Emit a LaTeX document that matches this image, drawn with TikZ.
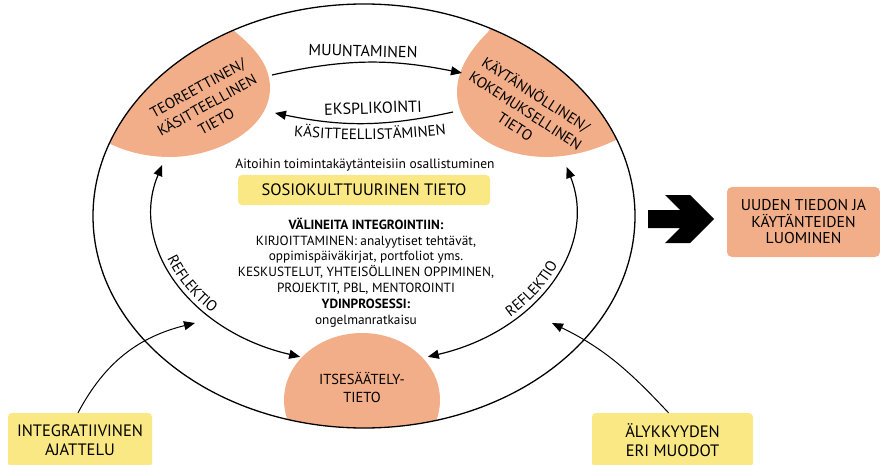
\documentclass[tikz,border=0pt]{standalone}
\usepackage{fontspec}
\setmainfont{PT Sans}
\usetikzlibrary{arrows.meta,decorations.text}
\definecolor{salmon}{RGB}{242,174,136}
\definecolor{butter}{RGB}{250,232,132}
\tikzset{
  tipend/.style={-{Triangle[length=11pt,width=9pt]}},
  twoends/.style={{Triangle[length=11pt,width=9pt]}-{Triangle[length=11pt,width=9pt]}},
  conn/.style={line width=1.2pt},
  lbl/.style={font=\fontsize{16}{18}\selectfont, inner sep=0pt},
  blobtxt/.style={font=\fontsize{15}{19}\selectfont, align=center, inner sep=0pt},
  smalltxt/.style={font=\fontsize{13.3}{15.8}\selectfont, align=center, inner sep=0pt},
  ybox/.style={fill=butter, rounded corners=4pt, align=center, inner sep=0pt},
  obox/.style={fill=salmon, rounded corners=5pt, align=center, inner sep=0pt},
}
\begin{document}
\begin{tikzpicture}[x=1pt,y=1pt]
\useasboundingbox (0,0) rectangle (880,-465);
% blobs clipped by the outer ellipse
\begin{scope}
\clip (364,-216) ellipse [x radius=271, y radius=212];
\fill[salmon] (215,0) -- (233,-30) .. controls (255,-48) and (270,-65) .. (270,-88)
  .. controls (270,-130) and (215,-157) .. (170,-157)
  .. controls (140,-157) and (115,-148) .. (100,-138) -- (60,-120) -- (60,0) -- cycle;
\fill[salmon] (505,-5) -- (488,-32) .. controls (470,-50) and (457,-70) .. (457,-92)
  .. controls (457,-130) and (495,-156) .. (545,-157)
  .. controls (575,-157) and (600,-148) .. (620,-138) -- (660,-100) -- (660,0) -- cycle;
\fill[salmon] (362,-400) ellipse [x radius=78, y radius=67];
\end{scope}
% outer ellipse
\draw[line width=1.3pt] (364,-216) ellipse [x radius=271, y radius=212];
% blob texts
\node[blobtxt, rotate=29] (teo) at (207,-105) {TEOREETTINEN/\\KÄSITTEELLINEN\\TIETO};
\node[blobtxt, rotate=-33] (kay) at (526,-110) {KÄYTÄNNÖLLINEN/\\KOKEMUKSELLINEN\\TIETO};
\node[blobtxt, font=\fontsize{14.5}{18}\selectfont] (its) at (362,-387) {ITSESÄÄTELY-\\TIETO};
% top arrows
\coordinate (m1) at (272,-75); \coordinate (m2) at (462,-73);
\draw[conn, tipend] (m1) to[bend left=12] (m2);
\node[lbl, rotate=-1.5] (muu) at (363,-51) {MUUNTAMINEN};
\coordinate (e1) at (453,-112); \coordinate (e2) at (275,-113);
\draw[conn, tipend] (e1) to[bend left=12] (e2);
\node[lbl, rotate=2] (eks) at (373,-108) {EKSPLIKOINTI};
\path[decorate, decoration={text along path, text align=center,
  text={|\fontsize{15}{17}\selectfont|KÄSITTEELLISTÄMINEN}}]
  (280,-135) to[bend right=6] (460,-133);
% inner reflection arcs
\coordinate (la) at (162.2,-165);
\draw[conn, twoends] (la) arc[start angle=163, end angle=252.4, x radius=211, y radius=154];
\coordinate (ra) at (427.8,-356.8);
\draw[conn, twoends] (ra) arc[start angle=287.6, end angle=376.2, x radius=211, y radius=154];
\coordinate (rl) at (153.8,-223.4);
\path[decorate, decoration={text along path, text align=center, raise=3pt,
  text={|\fontsize{15}{17}\selectfont|REFLEKTIO}}]
  (rl) arc[start angle=185, end angle=235, x radius=211, y radius=154];
\coordinate (rr) at (485,-336.1);
\path[decorate, decoration={text along path, text align=center, raise=3pt,
  text={|\fontsize{15}{17}\selectfont|REFLEKTIO}}]
  (rr) arc[start angle=305, end angle=350, x radius=211, y radius=154];
% centre texts
\node[smalltxt, font=\fontsize{13.5}{16}\selectfont] (ait) at (365,-165) {Aitoihin toimintakäytänteisiin osallistuminen};
\node[ybox, minimum width=252pt, minimum height=30pt, font=\fontsize{16.5}{18}\selectfont] (sos) at (364,-190) {SOSIOKULTTUURINEN TIETO};
\node[smalltxt] (vali) at (366,-272.5) {\textbf{VÄLINEITA INTEGROINTIIN:}\\KIRJOITTAMINEN: analyytiset tehtävät,\\oppimispäiväkirjat, portfoliot yms.\\KESKUSTELUT, YHTEISÖLLINEN OPPIMINEN,\\PROJEKTIT, PBL, MENTOROINTI\\\textbf{YDINPROSESSI:}\\ongelmanratkaisu};
% big arrow and result box
\fill (648,-210) -- (680,-210) -- (665,-195) -- (690,-195) -- (714,-219) -- (690,-243) -- (665,-243) -- (680,-228) -- (648,-228) -- cycle;
\node[obox, minimum width=153pt, minimum height=70pt, font=\fontsize{15.7}{16.5}\selectfont] (uud) at (803.5,-222) {UUDEN TIEDON JA\\KÄYTÄNTEIDEN\\LUOMINEN};
% bottom boxes
\node[ybox, minimum width=144pt, minimum height=54pt, font=\fontsize{16.5}{19}\selectfont] (int) at (80,-440) {INTEGRATIIVINEN\\AJATTELU};
\node[ybox, minimum width=161pt, minimum height=54pt, font=\fontsize{16.5}{18.5}\selectfont] (aly) at (672.5,-440) {ÄLYKKYYDEN\\ERI MUODOT};
\coordinate (c1) at (195,-323);
\coordinate (c2) at (552,-323);
\draw[line width=1pt, tipend] ([xshift=-2pt]int.north) to[out=62, in=194] (c1);
\draw[line width=1pt, tipend] ([xshift=-4pt]aly.north) to[out=133, in=-26] (c2);
\end{tikzpicture}
\end{document}
